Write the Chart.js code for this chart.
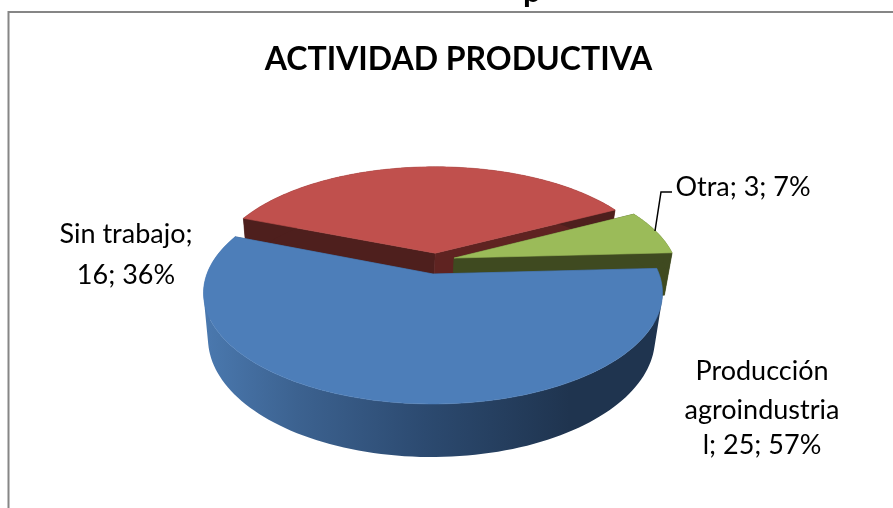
<!DOCTYPE html>
<html><head><meta charset="utf-8">
<style>html,body{margin:0;padding:0;background:#fff}canvas{display:block}</style>
<script src="https://cdn.jsdelivr.net/npm/chart.js@4"></script>
</head><body><canvas id="c" width="893" height="508"></canvas>
<script>
const categories = ['Producción agroindustrial', 'Sin trabajo', 'Otra'];
const values = [25, 16, 3];
const percents = [57, 36, 7];
const sliceColors = ['#4d7eb9', '#c0504d', '#9bbb59'];
const titleText = 'ACTIVIDAD PRODUCTIVA';

// disc-space explosion of each slice (unit = pie radius)
const explode = [[0, 0], [0.01, -0.2], [0.096, -0.152]];
const faceColors = [['#2f4f78', '#2f4f78'], ['#4e1f1d', '#5f2321'], ['#3f4a20', '#3f4a20']];

// perspective camera: unit disc → screen
const CX = 433, BASE = 274, ALPHA = 60.8, GAMMA = -0.1712, HALF = 226.1, DEPTH = 44, SHRINK = 0.974, LOW_SHIFT = -1.5;
function project(u, v, low) {
  const w = 1 + GAMMA * v;
  return [CX + (low ? LOW_SHIFT : 0) + (low ? SHRINK : 1) * HALF * u / w, (ALPHA * v + BASE + (low ? DEPTH : 0)) / w];
}
function rimPoints(el, i, low) {
  const [dx, dy] = explode[i], pts = [], n = 120;
  for (let k = 0; k <= n; k++) {
    const a = el.startAngle + (el.endAngle - el.startAngle) * k / n;
    pts.push(project(Math.cos(a) + dx, Math.sin(a) + dy, low));
  }
  return pts;
}
function poly(ctx, pts, fill) {
  ctx.beginPath();
  pts.forEach((p, i) => i ? ctx.lineTo(p[0], p[1]) : ctx.moveTo(p[0], p[1]));
  ctx.closePath();
  ctx.fillStyle = fill; ctx.strokeStyle = fill; ctx.lineWidth = 0.6;
  ctx.fill(); ctx.stroke();
}
function wallPath(ctx, top, low, fill) {
  ctx.beginPath();
  for (let k = 0; k < top.length - 1; k++) {
    const q = [top[k], top[k + 1], low[k + 1], low[k]];
    const area = (q[1][0] - q[0][0]) * (q[2][1] - q[0][1]) - (q[1][1] - q[0][1]) * (q[2][0] - q[0][0]);
    const o = area < 0 ? q.slice().reverse() : q;
    o.forEach((p, j) => j ? ctx.lineTo(p[0], p[1]) : ctx.moveTo(p[0], p[1]));
    ctx.closePath();
  }
  ctx.fillStyle = fill;
  ctx.fill('nonzero');
}
const labelLines = [
  { lines: ['Producción', 'agroindustria', `l; ${values[0]}; ${percents[0]}%`], x: 762, y: [380, 419, 454] },
  { lines: ['Sin trabajo;', `${values[1]}; ${percents[1]}%`], x: 126, y: [243, 284] },
  { lines: [`Otra; ${values[2]}; ${percents[2]}%`], x: 743, y: [196] }
];

const pie3d = {
  id: 'pie3d',
  beforeDraw(chart) {
    const ctx = chart.ctx;
    ctx.save();
    ctx.strokeStyle = '#868686'; ctx.lineWidth = 2;
    ctx.beginPath(); ctx.moveTo(8.5, 508); ctx.lineTo(8.5, 12); ctx.lineTo(893, 12); ctx.stroke();
    ctx.fillStyle = '#000'; ctx.font = 'bold 32px Lato'; ctx.textAlign = 'center';
    ctx.fillText('p', 532, 2);
    ctx.restore();
  },
  beforeDatasetDraw(chart, args) {
    const ctx = chart.ctx, arcs = args.meta.data;
    ctx.save();
    [1, 2, 0].forEach(i => {
      const el = arcs[i], [dx, dy] = explode[i];
      const top = rimPoints(el, i, false), low = rimPoints(el, i, true);
      const aT = project(dx, dy, false), aL = project(dx, dy, true);
      // cut faces
      poly(ctx, [aT, top[0], low[0], aL], faceColors[i][0]);
      poly(ctx, [aT, top[top.length - 1], low[low.length - 1], aL], faceColors[i][1]);
      // outer wall
      let wall = faceColors[i][0];
      if (i === 0) {
        const g = ctx.createLinearGradient(206, 0, 570, 0);
        g.addColorStop(0, '#4a78ae'); g.addColorStop(0.25, '#3c6290');
        g.addColorStop(0.6, '#2c4a70'); g.addColorStop(1, '#1f344f');
        wall = g;
      }
      wallPath(ctx, top, low, wall);
      // top
      poly(ctx, [aT].concat(top), sliceColors[i]);
    });
    ctx.restore();
    return false;
  },
  afterDraw(chart) {
    const ctx = chart.ctx;
    ctx.save();
    ctx.strokeStyle = '#000'; ctx.lineWidth = 1.5;
    ctx.beginPath(); ctx.moveTo(655, 231); ctx.lineTo(661, 192); ctx.lineTo(672, 192); ctx.stroke();
    ctx.fillStyle = '#000'; ctx.font = '27px Lato'; ctx.textAlign = 'center';
    labelLines.forEach(l => l.lines.forEach((t, i) => ctx.fillText(t, l.x, l.y[i])));
    ctx.restore();
  }
};

new Chart(document.getElementById('c'), {
  type: 'pie',
  data: { labels: categories, datasets: [{ data: values, backgroundColor: sliceColors, borderWidth: 0 }] },
  options: {
    responsive: false, animation: false, rotation: 87,
    events: [],
    layout: { padding: { left: 24 } },
    plugins: {
      legend: { display: false }, tooltip: { enabled: false },
      title: { display: true, text: titleText, color: '#000', font: { family: 'Lato', size: 32, weight: 'bold' }, padding: { top: 40, bottom: 10 } }
    }
  },
  plugins: [pie3d]
});
</script></body></html>
